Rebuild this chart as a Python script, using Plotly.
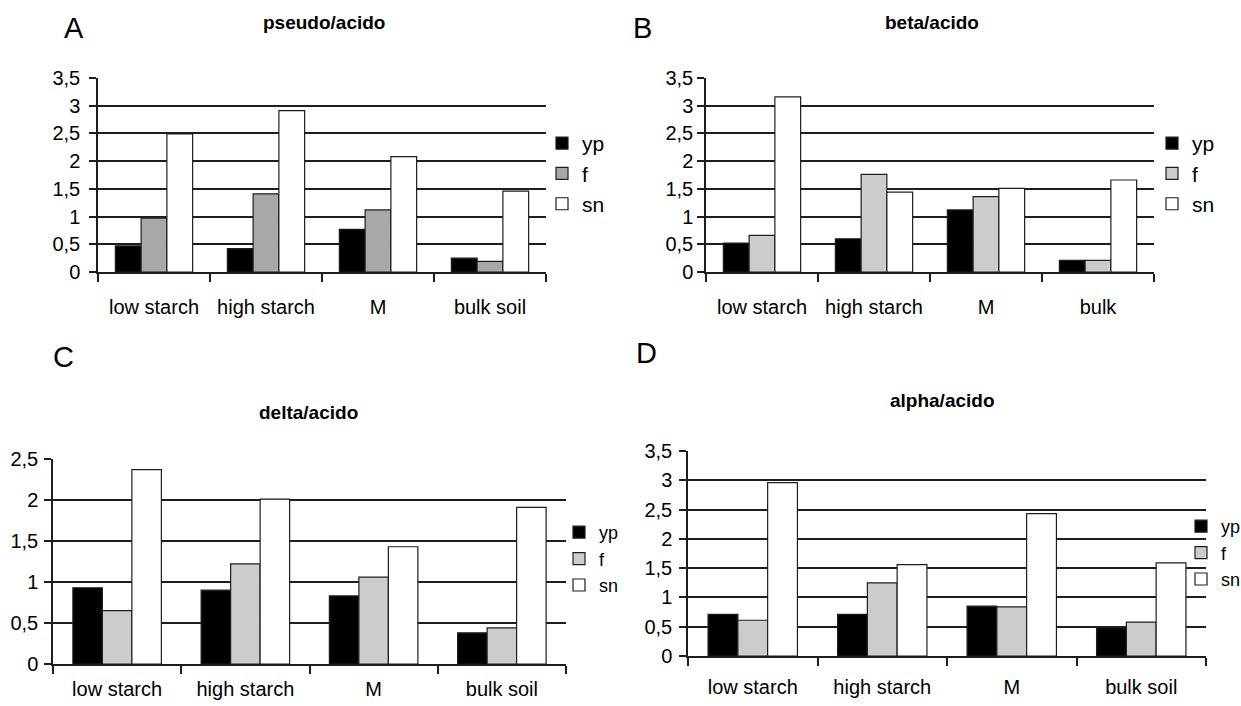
import plotly.graph_objects as go

# ---------------- data ----------------
cats_std = ["low starch", "high starch", "M", "bulk soil"]
cats_b = ["low starch", "high starch", "M", "bulk"]
series_names = ["yp", "f", "sn"]

# Panel A: pseudo/acido
a_yp = [0.47, 0.42, 0.77, 0.25]
a_f = [0.97, 1.41, 1.12, 0.19]
a_sn = [2.49, 2.91, 2.08, 1.46]

# Panel B: beta/acido
b_yp = [0.52, 0.60, 1.12, 0.21]
b_f = [0.66, 1.76, 1.36, 0.21]
b_sn = [3.16, 1.44, 1.51, 1.66]

# Panel C: delta/acido
c_yp = [0.93, 0.90, 0.83, 0.38]
c_f = [0.65, 1.22, 1.06, 0.44]
c_sn = [2.37, 2.01, 1.43, 1.91]

# Panel D: alpha/acido
d_yp = [0.71, 0.71, 0.85, 0.48]
d_f = [0.61, 1.25, 0.84, 0.58]
d_sn = [2.96, 1.56, 2.43, 1.59]

ytick_vals_35 = [0, 0.5, 1, 1.5, 2, 2.5, 3, 3.5]
ytick_text_35 = ["0", "0,5", "1", "1,5", "2", "2,5", "3", "3,5"]
ytick_vals_25 = [0, 0.5, 1, 1.5, 2, 2.5]
ytick_text_25 = ["0", "0,5", "1", "1,5", "2", "2,5"]

titles = ["pseudo/acido", "beta/acido", "delta/acido", "alpha/acido"]
letters = ["A", "B", "C", "D"]

# ---------------- layout geometry ----------------
W, H = 1241, 706
FONT = "Liberation Sans, Arial, sans-serif"
LINE = "#1e1e1e"

def px_x(x):
    return x / W

def px_y(y):
    return 1 - y / H

panels = [
    dict(cats=cats_std, vals=[a_yp, a_f, a_sn], fgray="#a8a8a8",
         xd=[px_x(98), px_x(546)], yd=[px_y(272), px_y(78)],
         yr=3.5, tv=ytick_vals_35, tt=ytick_text_35,
         title_xy=(324, 23), letter_xy=(74, 28),
         leg_xy=(542, 123), lfs=21, xstand=16, ystand=5),
    dict(cats=cats_b, vals=[b_yp, b_f, b_sn], fgray="#cccccc",
         xd=[px_x(706), px_x(1154)], yd=[px_y(272), px_y(78)],
         yr=3.5, tv=ytick_vals_35, tt=ytick_text_35,
         title_xy=(932, 23), letter_xy=(642, 28),
         leg_xy=(1152, 123), lfs=21, xstand=16, ystand=0),
    dict(cats=cats_std, vals=[c_yp, c_f, c_sn], fgray="#cccccc",
         xd=[px_x(53), px_x(566)], yd=[px_y(664), px_y(459)],
         yr=2.5, tv=ytick_vals_25, tt=ytick_text_25,
         title_xy=(308, 412), letter_xy=(63, 357),
         leg_xy=(559, 514), lfs=18, xstand=6, ystand=2),
    dict(cats=cats_std, vals=[d_yp, d_f, d_sn], fgray="#cccccc",
         xd=[px_x(688), px_x(1206)], yd=[px_y(656), px_y(451)],
         yr=3.5, tv=ytick_vals_35, tt=ytick_text_35,
         title_xy=(942, 400), letter_xy=(646, 353),
         leg_xy=(1181, 508), lfs=18, xstand=12, ystand=3),
]

fig = go.Figure()
annotations = []
layout_extra = {}

for i, p in enumerate(panels):
    n = "" if i == 0 else str(i + 1)
    legname = "legend" if i == 0 else f"legend{i+1}"
    colors = ["#000000", p["fgray"], "#ffffff"]
    for s, name in enumerate(series_names):
        fig.add_trace(go.Bar(
            x=p["cats"], y=p["vals"][s], name=name,
            marker=dict(color=colors[s], line=dict(color=LINE, width=1.2)),
            xaxis="x" + n, yaxis="y" + n, legend=legname,
            showlegend=True,
        ))
    layout_extra["xaxis" + n] = dict(
        domain=p["xd"], anchor="y" + n, type="category",
        showline=True, linecolor=LINE, linewidth=1.5,
        ticks="outside", tickson="boundaries", ticklen=8, tickwidth=1.5,
        tickcolor=LINE, ticklabelstandoff=p["xstand"],
        showgrid=False, zeroline=False, automargin=False,
        tickfont=dict(family=FONT, size=20, color="#000000"),
        fixedrange=True,
    )
    layout_extra["yaxis" + n] = dict(
        domain=p["yd"], anchor="x" + n, range=[0, p["yr"]],
        tickvals=p["tv"], ticktext=p["tt"],
        showline=True, linecolor=LINE, linewidth=1.5,
        ticks="outside", ticklen=7, tickwidth=1.5, tickcolor=LINE,
        ticklabelstandoff=p["ystand"],
        showgrid=True, gridcolor=LINE, gridwidth=1.6,
        zeroline=False, automargin=False,
        tickfont=dict(family=FONT, size=20, color="#000000"),
        fixedrange=True,
    )
    layout_extra[legname] = dict(
        x=px_x(p["leg_xy"][0]), y=px_y(p["leg_xy"][1]),
        xanchor="left", yanchor="top",
        font=dict(family=FONT, size=p["lfs"], color="#000000"),
        bgcolor="rgba(0,0,0,0)", borderwidth=0,
        tracegroupgap=0, itemwidth=30,
    )
    annotations.append(dict(
        text="<b>" + titles[i] + "</b>", xref="paper", yref="paper",
        x=px_x(p["title_xy"][0]), y=px_y(p["title_xy"][1]),
        xanchor="center", yanchor="middle", showarrow=False,
        font=dict(family=FONT, size=19, color="#000000"),
    ))
    annotations.append(dict(
        text=letters[i], xref="paper", yref="paper",
        x=px_x(p["letter_xy"][0]), y=px_y(p["letter_xy"][1]),
        xanchor="center", yanchor="middle", showarrow=False,
        font=dict(family=FONT, size=29, color="#000000"),
    ))

fig.update_layout(
    width=W, height=H,
    margin=dict(l=0, r=0, t=0, b=0, autoexpand=False),
    paper_bgcolor="#ffffff", plot_bgcolor="#ffffff",
    barmode="group", bargap=0.31, bargroupgap=0,
    annotations=annotations,
    font=dict(family=FONT, color="#000000"),
    **layout_extra,
)

fig.write_html("out.html")
